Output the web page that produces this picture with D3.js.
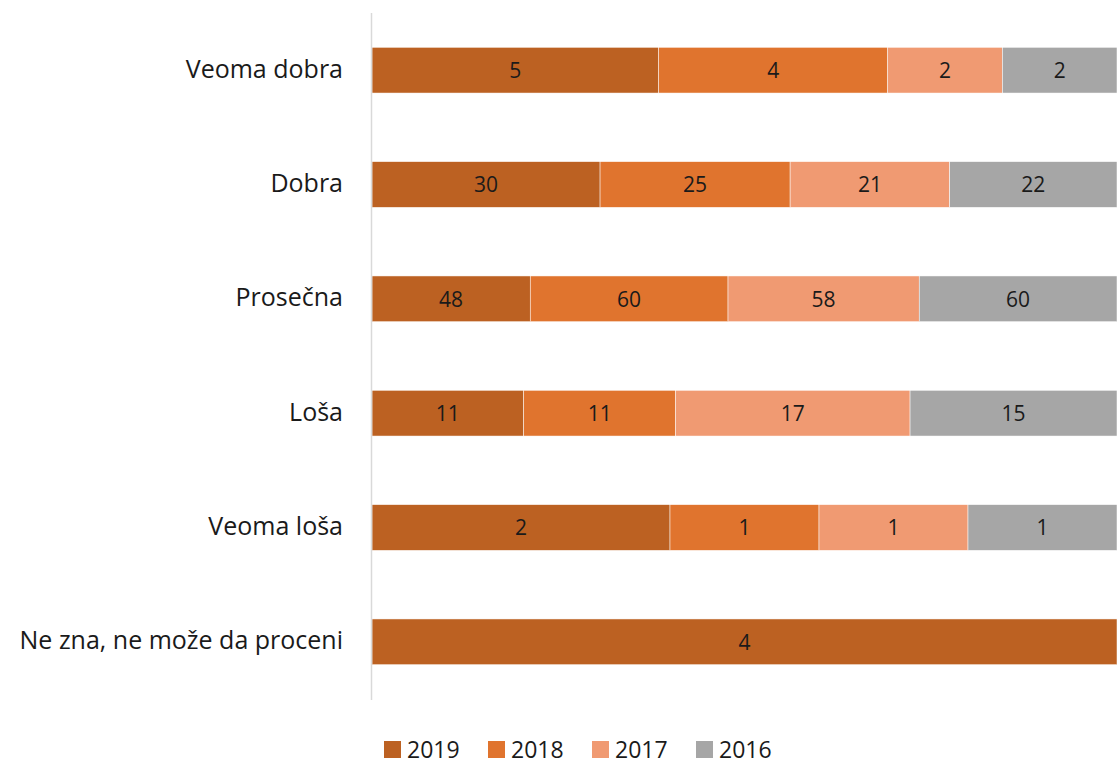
<!DOCTYPE html>
<html>
<head>
<meta charset="utf-8">
<script src="https://cdn.jsdelivr.net/npm/d3@7"></script>
<style>
  html, body { margin: 0; padding: 0; background: #fff; }
  svg { display: block; }
</style>
</head>
<body>
<div id="chart"></div>
<script>
/* 100% stacked horizontal bars: ocena, by year */

const categories = ['Veoma dobra', 'Dobra', 'Prosečna', 'Loša', 'Veoma loša', 'Ne zna, ne može da proceni'];
const years = ['2019', '2018', '2017', '2016'];
const v2019 = [5, 30, 48, 11, 2, 4];
const v2018 = [4, 25, 60, 11, 1, 0];
const v2017 = [2, 21, 58, 17, 1, 0];
const v2016 = [2, 22, 60, 15, 1, 0];
const colors = ['#bc6122', '#e0742e', '#f09a72', '#a6a6a6'];

const W = 1117, H = 767;
const FONT = "'Open Sans', Lato, sans-serif";

const series = [v2019, v2018, v2017, v2016];
const rows = categories.map((c, i) => {
  const r = { cat: c };
  years.forEach((y, k) => { r[y] = series[k][i]; });
  return r;
});

const stacked = d3.stack()
  .keys(years)
  .offset(d3.stackOffsetExpand)(rows);

const x = d3.scaleLinear().domain([0, 1]).range([372, 1117]);
const y = d3.scaleBand().domain(categories).range([13, 699]).paddingInner(0.6).paddingOuter(0.3);

const svg = d3.select('#chart').append('svg')
  .attr('width', W).attr('height', H);

/* ── Bars ── */
const layer = svg.append('g').selectAll('g')
  .data(stacked)
  .join('g')
  .attr('fill', (_, i) => colors[i]);

layer.selectAll('rect')
  .data(d => d.filter(s => s[1] - s[0] > 0))
  .join('rect')
  .attr('x', d => x(d[0]))
  .attr('y', d => y(d.data.cat))
  .attr('width', d => x(d[1]) - x(d[0]))
  .attr('height', y.bandwidth())
  .attr('stroke', '#fff')
  .attr('stroke-width', 0.5);

/* ── Value labels ── */
layer.selectAll('text')
  .data((d) => d.filter(s => s[1] - s[0] > 0).map(s => ({ s, key: d.key })))
  .join('text')
  .attr('x', d => (x(d.s[0]) + x(d.s[1])) / 2)
  .attr('y', d => y(d.s.data.cat) + y.bandwidth() / 2)
  .attr('dy', '0.38em')
  .attr('text-anchor', 'middle')
  .attr('fill', '#1a1a1a')
  .attr('font-family', FONT)
  .attr('font-size', '21px')
  .text(d => d.s.data[d.key]);

/* ── Axis ── */
svg.append('line')
  .attr('x1', 371.5).attr('x2', 371.5)
  .attr('y1', 13).attr('y2', 700)
  .attr('stroke', '#d9d9d9').attr('stroke-width', 1.5);

svg.append('g').selectAll('text')
  .data(categories)
  .join('text')
  .attr('x', 343)
  .attr('y', d => y(d) + y.bandwidth() / 2)
  .attr('dy', '0.3em')
  .attr('text-anchor', 'end')
  .attr('fill', '#1a1a1a')
  .attr('font-family', FONT)
  .attr('font-size', '25px')
  .text(d => d);

/* ── Legend ── */
const lg = svg.append('g').selectAll('g')
  .data(years)
  .join('g')
  .attr('transform', (_, i) => `translate(${384 + i * 104}, 741)`);
lg.append('rect')
  .attr('width', 17).attr('height', 17)
  .attr('fill', (_, i) => colors[i]);
lg.append('text')
  .attr('x', 23).attr('y', 8.5)
  .attr('dy', '0.36em')
  .attr('fill', '#1a1a1a')
  .attr('font-family', FONT)
  .attr('font-size', '23px')
  .text(d => d);
</script>
</body>
</html>
